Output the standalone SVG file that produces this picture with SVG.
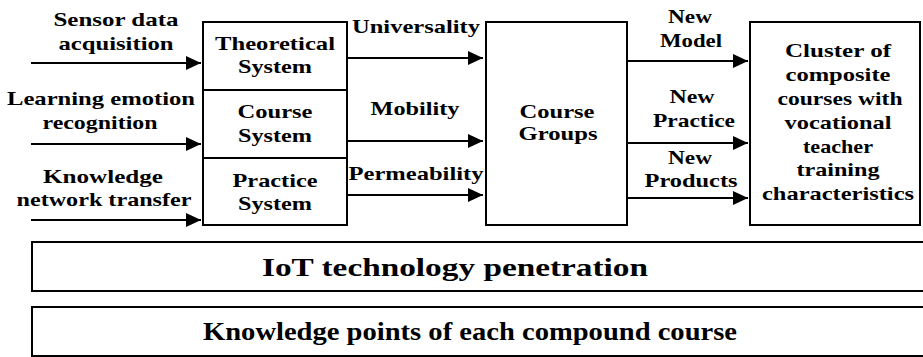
<svg xmlns="http://www.w3.org/2000/svg" width="923" height="357" viewBox="0 0 923 357">
<style>
  .box{fill:#fff;stroke:#000;stroke-width:2}
  .t{font-family:"Liberation Serif","Times New Roman",Times,serif;font-weight:bold;font-size:19px;fill:#000;text-anchor:middle}
  .big{font-size:25px}
  .c{stroke:#000;stroke-width:2;fill:none;marker-end:url(#ah)}
</style>
<defs>
  <marker id="ah" markerUnits="userSpaceOnUse" markerWidth="16" markerHeight="14" refX="15" refY="7" orient="auto">
    <path d="M0,0 L15,7 L0,14 Z" fill="#000"/>
  </marker>
</defs>
<g id="connectors">
  <line class="c" x1="31" y1="63" x2="201" y2="63"/>
  <line class="c" x1="31" y1="144" x2="201" y2="144"/>
  <line class="c" x1="31" y1="220" x2="201" y2="220"/>
  <line class="c" x1="347" y1="58" x2="483" y2="58"/>
  <line class="c" x1="347" y1="141" x2="483" y2="141"/>
  <line class="c" x1="347" y1="195" x2="483" y2="195"/>
  <line class="c" x1="627" y1="61" x2="748" y2="61"/>
  <line class="c" x1="627" y1="143" x2="748" y2="143"/>
  <line class="c" x1="627" y1="198" x2="748" y2="198"/>
</g>
<g id="labels">
  <text class="t" x="116" y="26" textLength="125" lengthAdjust="spacingAndGlyphs">Sensor data</text>
  <text class="t" x="116" y="50" textLength="115" lengthAdjust="spacingAndGlyphs">acquisition</text>
  <text class="t" x="101" y="105" textLength="188" lengthAdjust="spacingAndGlyphs">Learning emotion</text>
  <text class="t" x="100" y="129" textLength="115" lengthAdjust="spacingAndGlyphs">recognition</text>
  <text class="t" x="103" y="183" textLength="120" lengthAdjust="spacingAndGlyphs">Knowledge</text>
  <text class="t" x="104" y="206" textLength="175" lengthAdjust="spacingAndGlyphs">network transfer</text>
  <text class="t" x="416" y="33" textLength="128" lengthAdjust="spacingAndGlyphs">Universality</text>
  <text class="t" x="415" y="115" textLength="89" lengthAdjust="spacingAndGlyphs">Mobility</text>
  <text class="t" x="416" y="180" textLength="135" lengthAdjust="spacingAndGlyphs">Permeability</text>
  <text class="t" x="690" y="23" textLength="44" lengthAdjust="spacingAndGlyphs">New</text>
  <text class="t" x="691" y="47" textLength="62" lengthAdjust="spacingAndGlyphs">Model</text>
  <text class="t" x="692" y="103" textLength="45" lengthAdjust="spacingAndGlyphs">New</text>
  <text class="t" x="694" y="127" textLength="82" lengthAdjust="spacingAndGlyphs">Practice</text>
  <text class="t" x="690" y="164" textLength="44" lengthAdjust="spacingAndGlyphs">New</text>
  <text class="t" x="691" y="187" textLength="93" lengthAdjust="spacingAndGlyphs">Products</text>
</g>
<g id="systems">
  <rect class="box" x="203" y="22" width="144" height="203"/>
  <line x1="203" y1="90" x2="347" y2="90" stroke="#000" stroke-width="2"/>
  <line x1="203" y1="158" x2="347" y2="158" stroke="#000" stroke-width="2"/>
</g>
<g id="theoretical">
  <text class="t" x="275" y="50" textLength="120" lengthAdjust="spacingAndGlyphs">Theoretical</text>
  <text class="t" x="275" y="73" textLength="74" lengthAdjust="spacingAndGlyphs">System</text>
</g>
<g id="course">
  <text class="t" x="275" y="118" textLength="75" lengthAdjust="spacingAndGlyphs">Course</text>
  <text class="t" x="275" y="142" textLength="74" lengthAdjust="spacingAndGlyphs">System</text>
</g>
<g id="practice">
  <text class="t" x="275" y="187" textLength="85" lengthAdjust="spacingAndGlyphs">Practice</text>
  <text class="t" x="275" y="210" textLength="74" lengthAdjust="spacingAndGlyphs">System</text>
</g>
<g id="course-groups">
  <rect class="box" x="486" y="22" width="141" height="203"/>
  <text class="t" x="557" y="118" textLength="75" lengthAdjust="spacingAndGlyphs">Course</text>
  <text class="t" x="558" y="140" textLength="79" lengthAdjust="spacingAndGlyphs">Groups</text>
</g>
<g id="cluster">
  <rect class="box" x="750" y="22" width="170" height="203"/>
  <text class="t" x="838" y="57" textLength="106" lengthAdjust="spacingAndGlyphs">Cluster of</text>
  <text class="t" x="838" y="81" textLength="105" lengthAdjust="spacingAndGlyphs">composite</text>
  <text class="t" x="840" y="105" textLength="125" lengthAdjust="spacingAndGlyphs">courses with</text>
  <text class="t" x="838" y="129" textLength="107" lengthAdjust="spacingAndGlyphs">vocational</text>
  <text class="t" x="838" y="153" textLength="70" lengthAdjust="spacingAndGlyphs">teacher</text>
  <text class="t" x="838" y="176" textLength="83" lengthAdjust="spacingAndGlyphs">training</text>
  <text class="t" x="838" y="200" textLength="152" lengthAdjust="spacingAndGlyphs">characteristics</text>
</g>
<g id="iot">
  <rect class="box" x="32" y="242" width="895" height="49"/>
  <text class="t big" x="455" y="276" textLength="386" lengthAdjust="spacingAndGlyphs">IoT technology penetration</text>
</g>
<g id="knowledge">
  <rect class="box" x="32" y="307" width="895" height="49"/>
  <text class="t big" x="470" y="340" textLength="534" lengthAdjust="spacingAndGlyphs">Knowledge points of each compound course</text>
</g>
</svg>
